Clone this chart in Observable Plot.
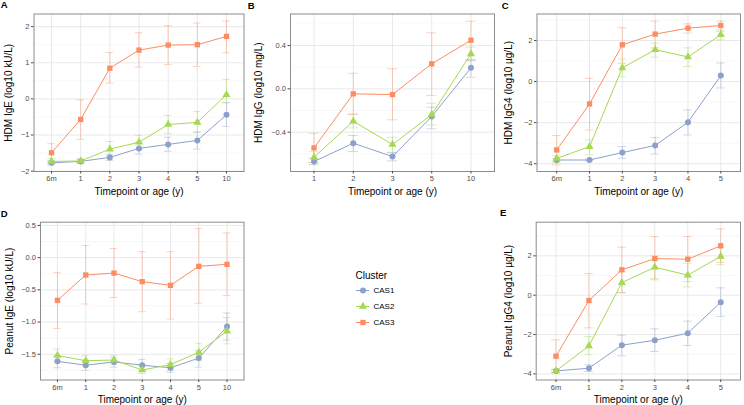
<!DOCTYPE html>
<html><head><meta charset="utf-8">
<script src="https://cdn.jsdelivr.net/npm/d3@7"></script>
<script src="https://cdn.jsdelivr.net/npm/@observablehq/plot@0.6"></script>
<style>
body{margin:0;background:#fff;}
#fig{position:relative;width:744px;height:405px;overflow:hidden;background:#fff;}
</style></head><body><div id="fig"></div>
<script>
// ---------- data ----------
const clusters = ["CAS1", "CAS2", "CAS3"];
const colors = ["#8da0cb", "#a6d854", "#fc8d62"];
const symbols = ["circle", "triangle", "square"];
const xLabel = "Timepoint or age (y)";

// A: HDM IgE
const A_cats = ["6m", "1", "2", "3", "4", "5", "10"];
const A_mean = [[-1.77, -1.73, -1.62, -1.37, -1.26, -1.15, -0.44],
                [-1.73, -1.72, -1.39, -1.20, -0.71, -0.65, 0.12],
                [-1.49, -0.57, 0.85, 1.35, 1.49, 1.50, 1.73]];
const A_lo = [[-1.83, -1.79, -1.70, -1.53, -1.45, -1.39, -0.76],
              [-1.80, -1.78, -1.60, -1.40, -0.96, -0.92, -0.10],
              [-1.74, -1.12, 0.44, 0.88, 0.95, 0.90, 1.28]];
const A_hi = [[-1.71, -1.67, -1.54, -1.21, -1.06, -0.92, -0.11],
              [-1.65, -1.66, -1.18, -1.01, -0.46, -0.35, 0.54],
              [-1.24, -0.03, 1.28, 1.83, 2.02, 2.10, 2.16]];
const A_major = [-2, -1, 0, 1, 2];
const A_minor = [-1.5, -0.5, 0.5, 1.5];

// B: HDM IgG
const B_cats = ["1", "2", "3", "5", "10"];
const B_mean = [[-0.671, -0.502, -0.625, -0.256, 0.194],
                [-0.632, -0.299, -0.514, -0.237, 0.323],
                [-0.545, -0.046, -0.053, 0.231, 0.449]];
const B_lo = [[-0.70, -0.579, -0.665, -0.369, 0.107],
              [-0.68, -0.36, -0.585, -0.333, 0.268],
              [-0.68, -0.237, -0.286, -0.062, 0.268]];
const B_hi = [[-0.64, -0.431, -0.59, -0.17, 0.26],
              [-0.58, -0.231, -0.447, -0.133, 0.384],
              [-0.41, 0.144, 0.185, 0.517, 0.624]];
const B_major = [-0.4, 0, 0.4];
const B_minor = [-0.6, -0.2, 0.2, 0.6];

// C: HDM IgG4
const C_cats = ["6m", "1", "2", "3", "4", "5"];
const C_mean = [[-3.82, -3.82, -3.46, -3.11, -1.98, 0.29],
                [-3.74, -3.17, 0.67, 1.55, 1.20, 2.28],
                [-3.33, -1.09, 1.79, 2.31, 2.60, 2.73]];
const C_lo = [[-3.88, -3.87, -3.74, -3.53, -2.60, -0.31],
              [-3.95, -3.56, 0.24, 1.19, 0.73, 2.03],
              [-4.06, -2.36, 0.89, 1.64, 2.36, 2.45]];
const C_hi = [[-3.76, -3.77, -3.17, -2.72, -1.38, 0.91],
              [-3.60, -2.84, 1.10, 1.87, 1.64, 2.52],
              [-2.63, 0.16, 2.62, 2.94, 2.81, 2.94]];
const C_major = [-4, -2, 0, 2];
const C_minor = [-3, -1, 1, 3];

// D: Peanut IgE
const D_cats = ["6m", "1", "2", "3", "4", "5", "10"];
const D_mean = [[-1.61, -1.67, -1.62, -1.67, -1.71, -1.56, -1.07],
                [-1.52, -1.60, -1.59, -1.745, -1.66, -1.47, -1.14],
                [-0.664, -0.27, -0.24, -0.373, -0.43, -0.135, -0.104]];
const D_lo = [[-1.71, -1.75, -1.70, -1.76, -1.78, -1.70, -1.28],
              [-1.62, -1.68, -1.66, -1.80, -1.75, -1.60, -1.34],
              [-1.10, -0.72, -0.62, -0.84, -0.955, -0.71, -0.59]];
const D_hi = [[-1.52, -1.60, -1.55, -1.58, -1.64, -1.44, -0.86],
              [-1.42, -1.52, -1.52, -1.68, -1.57, -1.33, -0.93],
              [-0.234, 0.187, 0.14, 0.093, 0.093, 0.45, 0.384]];
const D_major = [-1.5, -1, -0.5, 0, 0.5];
const D_minor = [-1.75, -1.25, -0.75, -0.25, 0.25];

// E: Peanut IgG4
const E_cats = ["6m", "1", "2", "3", "4", "5"];
const E_mean = [[-3.85, -3.71, -2.54, -2.29, -1.93, -0.36],
                [-3.85, -2.58, 0.64, 1.42, 1.02, 1.97],
                [-3.10, -0.27, 1.29, 1.86, 1.83, 2.51]];
const E_lo = [[-3.92, -3.88, -3.08, -2.86, -2.56, -1.08],
              [-3.92, -3.02, 0.12, 0.85, 0.42, 1.55],
              [-3.93, -1.66, 0.14, 0.78, 0.69, 1.66]];
const E_hi = [[-3.78, -3.54, -2.03, -1.71, -1.32, 0.37],
              [-3.76, -2.10, 1.20, 2.00, 1.62, 2.42],
              [-2.27, 1.10, 2.44, 2.98, 2.98, 3.37]];
const E_major = [-4, -2, 0, 2];
const E_minor = [-3, -1, 1, 3];

// ---------- drawing ----------
const FONT = "'Liberation Sans', Arial, Helvetica, sans-serif";
const fig = document.getElementById("fig");
const fmtInt = d3.format("d");
const fmt1 = d3.format(".1f");

function panel(p) {
  const n = p.cats.length;
  const rows = [];
  clusters.forEach((c, k) => p.cats.forEach((lab, i) =>
    rows.push({i, cluster: c, mean: p.mean[k][i], lo: p.lo[k][i], hi: p.hi[k][i]})));
  const cap = 0.13;
  const eb = {stroke: "cluster", strokeOpacity: 0.45, strokeWidth: 0.9};
  const svg = Plot.plot({
    width: p.w, height: p.h,
    marginLeft: p.ml, marginRight: p.mr, marginTop: p.mt, marginBottom: p.mb,
    x: {domain: [-0.6, n - 1 + 0.6]},
    y: {domain: p.ydom},
    color: {domain: clusters, range: colors},
    symbol: {domain: clusters, range: symbols},
    style: {fontFamily: FONT, background: "transparent", color: "black", overflow: "visible"},
    marks: [
      Plot.ruleY(p.minor, {stroke: "#f3f3f3", strokeWidth: 0.6}),
      Plot.ruleY(p.major, {stroke: "#e6e6e6", strokeWidth: 0.9}),
      Plot.ruleX(d3.range(n), {stroke: "#e6e6e6", strokeWidth: 0.9}),
      Plot.ruleX(rows, {x: "i", y1: "lo", y2: "hi", ...eb}),
      Plot.ruleY(rows, {y: "lo", x1: d => d.i - cap, x2: d => d.i + cap, ...eb}),
      Plot.ruleY(rows, {y: "hi", x1: d => d.i - cap, x2: d => d.i + cap, ...eb}),
      Plot.line(rows, {x: "i", y: "mean", z: "cluster", stroke: "cluster", strokeWidth: 1}),
      Plot.dot(rows, {x: "i", y: "mean", symbol: "cluster", fill: "cluster", r: 3}),
      Plot.frame({stroke: "#8c8c8c", strokeWidth: 1}),
      Plot.axisX(d3.range(n), {tickFormat: i => p.cats[i], tickSize: 2.5, tickPadding: 2,
        fontSize: 7.5, color: "#4d4d4d", label: null}),
      Plot.axisY(p.major, {tickFormat: p.fmt, tickSize: 2.5, tickPadding: 2,
        fontSize: 7.5, color: "#4d4d4d", label: null}),
      Plot.text([xLabel], {text: d => d, frameAnchor: "bottom", dy: p.xdy, textAnchor: "middle",
        lineAnchor: "middle", fontSize: 10, fill: "black"}),
      Plot.text([p.ylab], {text: d => d, frameAnchor: "left", dx: p.ydx, rotate: -90, textAnchor: "middle",
        lineAnchor: "middle", fontSize: 10, fill: "black"})
    ]
  });
  svg.style.position = "absolute";
  svg.style.left = p.left + "px";
  svg.style.top = p.top + "px";
  fig.appendChild(svg);
}

panel({cats: A_cats, mean: A_mean, lo: A_lo, hi: A_hi, major: A_major, minor: A_minor, fmt: fmtInt,
  ydom: [-2.01, 2.35], ylab: "HDM IgE (log10 kU/L)",
  left: 0, top: 0, w: 246, h: 200, ml: 33.5, mr: 2.5, mt: 13.5, mb: 29, xdy: 20.5, ydx: -25.5});
panel({cats: B_cats, mean: B_mean, lo: B_lo, hi: B_hi, major: B_major, minor: B_minor, fmt: fmt1,
  ydom: [-0.763, 0.691], ylab: "HDM IgG (log10 mg/L)",
  left: 248, top: 0, w: 248, h: 200, ml: 42, mr: 2, mt: 13.5, mb: 29, xdy: 20.5, ydx: -31.5});
panel({cats: C_cats, mean: C_mean, lo: C_lo, hi: C_hi, major: C_major, minor: C_minor, fmt: fmtInt,
  ydom: [-4.38, 3.29], ylab: "HDM IgG4 (log10 \u00b5g/L)",
  left: 496, top: 0, w: 248, h: 200, ml: 40.5, mr: 4, mt: 13.5, mb: 29, xdy: 20.5, ydx: -28});
panel({cats: D_cats, mean: D_mean, lo: D_lo, hi: D_hi, major: D_major, minor: D_minor, fmt: fmt1,
  ydom: [-1.90, 0.55], ylab: "Peanut IgE (log10 kU/L)",
  left: 0, top: 205, w: 246, h: 200, ml: 40, mr: 2.5, mt: 16.7, mb: 25.5, xdy: 20, ydx: -30.5});
panel({cats: E_cats, mean: E_mean, lo: E_lo, hi: E_hi, major: E_major, minor: E_minor, fmt: fmtInt,
  ydom: [-4.31, 3.71], ylab: "Peanut IgG4 (log10 \u00b5g/L)",
  left: 496, top: 205, w: 248, h: 200, ml: 39.7, mr: 4, mt: 16.7, mb: 25.5, xdy: 20, ydx: -27.5});

// legend
const legend = Plot.plot({
  width: 80, height: 72, margin: 0,
  x: {domain: [0, 1], range: [6, 19], axis: null},
  y: {type: "point", domain: clusters, range: [28, 60], padding: 0, axis: null},
  color: {domain: clusters, range: colors},
  symbol: {domain: clusters, range: symbols},
  style: {fontFamily: FONT, background: "transparent", color: "black", overflow: "visible"},
  marks: [
    Plot.text(["Cluster"], {text: d => d, frameAnchor: "top-left", dx: 5, dy: 13, textAnchor: "start",
      lineAnchor: "middle", fontSize: 10, fill: "black"}),
    Plot.ruleY(clusters, {y: d => d, x1: 0, x2: 1, stroke: d => d, strokeWidth: 1}),
    Plot.dot(clusters, {x: 0.5, y: d => d, symbol: d => d, fill: d => d, r: 3}),
    Plot.text(clusters, {x: 1, y: d => d, text: d => d, dx: 4, textAnchor: "start", fontSize: 8, fill: "black"})
  ]
});
legend.style.position = "absolute";
legend.style.left = "350px";
legend.style.top = "262px";
fig.appendChild(legend);

// panel letters
const ns = "http://www.w3.org/2000/svg";
const over = document.createElementNS(ns, "svg");
over.setAttribute("width", 744); over.setAttribute("height", 405);
over.style.position = "absolute"; over.style.left = "0"; over.style.top = "0";
[["A", 0.7, 7.8], ["B", 247.7, 8.6], ["C", 501.7, 9.4], ["D", 0.7, 217.4], ["E", 500, 216.2]].forEach(([t, x, y]) => {
  const el = document.createElementNS(ns, "text");
  el.setAttribute("x", x); el.setAttribute("y", y);
  el.setAttribute("font-family", FONT); el.setAttribute("font-weight", "bold");
  el.setAttribute("font-size", "9.5");
  el.textContent = t;
  over.appendChild(el);
});
fig.appendChild(over);
</script>
</body></html>
